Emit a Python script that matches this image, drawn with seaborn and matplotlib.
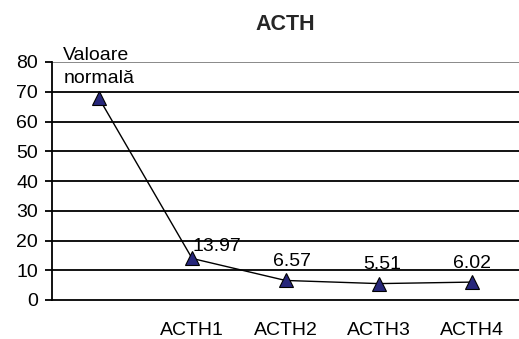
import matplotlib
matplotlib.use("Agg")
import matplotlib.pyplot as plt
from matplotlib.ticker import FixedLocator
import seaborn as sns
import pandas as pd

# Data
categories = ["Valoare normală", "ACTH1", "ACTH2", "ACTH3", "ACTH4"]
tick_labels = ["", "ACTH1", "ACTH2", "ACTH3", "ACTH4"]
values = [68.0, 13.97, 6.57, 5.51, 6.02]
point_labels = ["Valoare\nnormală", "13.97", "6.57", "5.51", "6.02"]
y_ticks = [0, 10, 20, 30, 40, 50, 60, 70, 80]

sns.set_theme(style="white")
plt.rcParams["font.family"] = ["Liberation Sans", "DejaVu Sans"]

FS = 14

df = pd.DataFrame({"pos": range(len(categories)), "value": values})

fig = plt.figure(figsize=(5.19, 3.39), dpi=100)
ax = fig.add_axes([52 / 519, 39 / 339, 1 - 52 / 519, (300 - 62) / 339])

# horizontal gridlines
for y in y_ticks[1:]:
    ax.axhline(y, color="#808080" if y == 80 else "black", lw=1.3, zorder=1)

sns.lineplot(data=df, x="pos", y="value", ax=ax, color="black", lw=1.0,
             marker="^", markersize=10, markerfacecolor="#26267a",
             markeredgecolor="black", markeredgewidth=0.8, zorder=3)

# point labels: (dx, dy, ha)
offsets = [(0, 8, "center"), (0.5, 2.5, "left"), (5, 7.5, "center"),
           (2.5, 7.5, "center"), (0, 7.5, "center")]
for i, (v, lab) in enumerate(zip(values, point_labels)):
    dx, dy, ha = offsets[i]
    ax.annotate(lab, (i, v), xytext=(dx, dy), textcoords="offset points",
                ha=ha, va="bottom", fontsize=FS, color="black",
                multialignment="left", linespacing=1.45, zorder=4)

ax.set_xlim(-0.5, len(categories) - 0.5)
ax.set_ylim(0, 80)
ax.set_yticks(y_ticks)
ax.set_xticks(range(len(categories)))
ax.set_xticklabels(tick_labels)
ax.xaxis.set_minor_locator(FixedLocator([i - 0.5 for i in range(len(categories) + 1)]))
ax.tick_params(axis="x", which="major", length=0, pad=16, labelsize=FS, colors="black")
ax.tick_params(axis="x", which="minor", length=5, width=1.3, direction="out", color="black")
ax.tick_params(axis="y", length=5, width=1.3, direction="out", labelsize=FS,
               colors="black", pad=5, left=True)
ax.set_xlabel("")
ax.set_ylabel("")

for side in ["top", "right"]:
    ax.spines[side].set_visible(False)
for side in ["left", "bottom"]:
    ax.spines[side].set_color("black")
    ax.spines[side].set_linewidth(1.3)

fig.text(285 / 519, 1 - 24 / 339, "ACTH", ha="center", va="center",
         fontsize=15.5, fontweight="bold")

fig.savefig("out.png", dpi=100)
